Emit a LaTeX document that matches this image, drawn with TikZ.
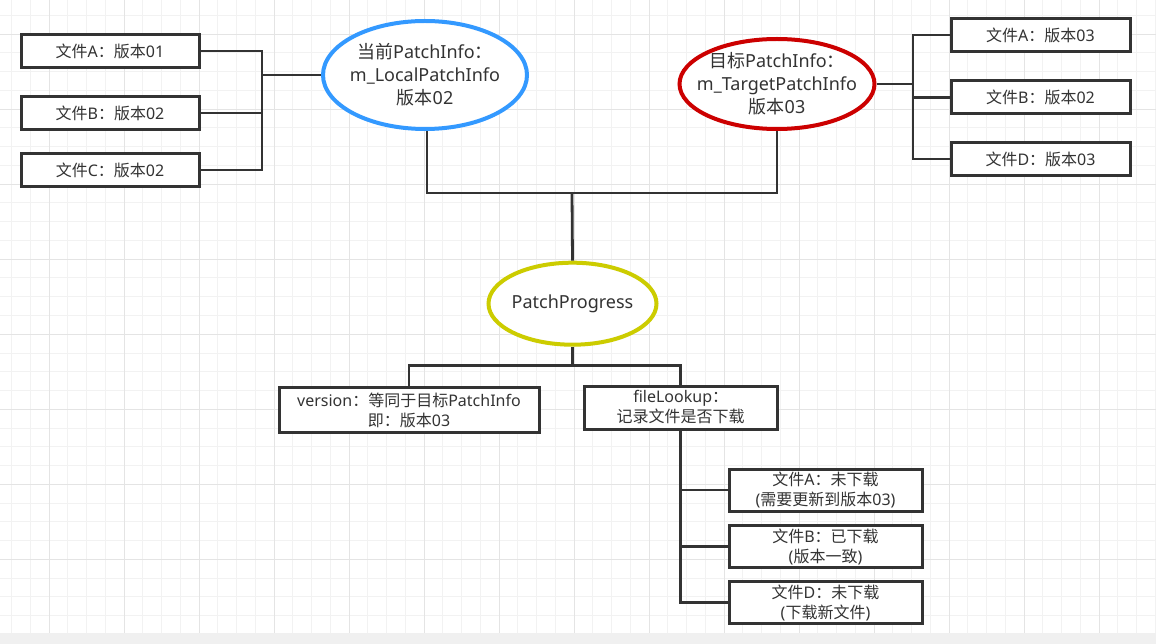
\documentclass[tikz,border=0pt]{standalone}
\usepackage{fontspec}
\setmainfont{Noto Sans}
\newfontfamily\cjkfont{Noto Sans CJK SC}
\newcommand\zh[1]{{\cjkfont #1}}
\usetikzlibrary{shapes.geometric}
\definecolor{txt}{HTML}{333333}
\definecolor{ln}{HTML}{333333}
\definecolor{gminor}{HTML}{F2F2F2}
\definecolor{gmajor}{HTML}{E4E4E4}
\definecolor{strip}{HTML}{F0F0F0}
\definecolor{eblue}{HTML}{3399FF}
\definecolor{ered}{HTML}{CC0000}
\definecolor{eyellow}{HTML}{CCCC00}
\tikzset{
  gridminor/.style={draw=gminor,line width=1pt},
  gridmajor/.style={draw=gmajor,line width=1pt},
  filebox/.style={draw=ln,line width=3pt,fill=white,rectangle,inner sep=0pt,
    align=center,text=txt,font=\fontsize{16}{20}\selectfont},
  bigell/.style={ellipse,line width=4pt,fill=white,inner sep=0pt},
  elltext/.style={inner sep=0pt,align=center,text=txt,font=\fontsize{18}{23}\selectfont},
  conn/.style={draw=ln,line width=2.8pt},
}
\begin{document}
\begin{tikzpicture}[x=1pt,y=-1pt]
\useasboundingbox (0,0) rectangle (1156,644);
\fill[white] (0,0) rectangle (1156,632.7);
\fill[strip] (0,632.7) rectangle (1156,644);
% grid
\foreach \i in {0,...,61} \draw[gridminor] ({11.5+18.75*\i},0) -- ({11.5+18.75*\i},632.7);
\foreach \j in {0,...,32} \draw[gridminor] (0,{15.5+18.75*\j}) -- (1156,{15.5+18.75*\j});
\foreach \i in {0,...,14} \draw[gridmajor] ({49+75*\i},0) -- ({49+75*\i},632.7);
\foreach \j in {0,...,7} \draw[gridmajor] (0,{34.25+75*\j}) -- (1156,{34.25+75*\j});

% connector helper coordinates
\coordinate (lb) at (262,75);
\coordinate (rb) at (913,84);
\coordinate (mid) at (572,193);
\coordinate (ys) at (572.5,365.7);

% left boxes
\node[filebox,minimum width=178pt,minimum height=33pt] (la) at (110,51) {\zh{文件}A\zh{：版本}01};
\node[filebox,minimum width=178pt,minimum height=33pt] (lbx) at (110,113) {\zh{文件}B\zh{：版本}02};
\node[filebox,minimum width=178pt,minimum height=33pt] (lc) at (110,170) {\zh{文件}C\zh{：版本}02};

% right boxes
\node[filebox,minimum width=179pt,minimum height=33pt] (ra) at (1040.5,35) {\zh{文件}A\zh{：版本}03};
\node[filebox,minimum width=179pt,minimum height=33pt] (rbx) at (1040.5,97.5) {\zh{文件}B\zh{：版本}02};
\node[filebox,minimum width=179pt,minimum height=33pt] (rd) at (1040.5,159) {\zh{文件}D\zh{：版本}03};

% ellipses
\node[bigell,draw=eblue,minimum width=204pt,minimum height=108pt] (blue) at (425,75) {};
\node[elltext] (bluet) at (blue.center)
  {\zh{当前}PatchInfo\zh{：}\\m\_LocalPatchInfo\\\zh{版本}02};
\node[bigell,draw=ered,minimum width=195pt,minimum height=90pt] (red) at (777,84) {};
\node[elltext] (redt) at (red.center)
  {\zh{目标}PatchInfo\zh{：}\\m\_TargetPatchInfo\\\zh{版本}03};
\node[bigell,draw=eyellow,minimum width=168pt,minimum height=82pt] (yel) at (572.5,303.7) {};
\node[elltext] (yelt) at (yel.center) {PatchProgress};

% progress children
\node[filebox,minimum width=260pt,minimum height=45pt] (ver) at (409,410)
  {version\zh{：等同于目标}PatchInfo\\\zh{即：版本}03};
\node[filebox,minimum width=193pt,minimum height=43pt] (fl) at (680.7,407.5)
  {fileLookup\zh{：}\\\zh{记录文件是否下载}};

\node[filebox,minimum width=193pt,minimum height=42pt] (f1) at (825.5,490)
  {\zh{文件}A\zh{：未下载}\\(\zh{需要更新到版本}03)};
\node[filebox,minimum width=193pt,minimum height=42pt] (f2) at (825.5,546.5)
  {\zh{文件}B\zh{：已下载}\\(\zh{版本一致})};
\node[filebox,minimum width=193pt,minimum height=42pt] (f3) at (825.5,602.5)
  {\zh{文件}D\zh{：未下载}\\(\zh{下载新文件})};

% connectors
\draw[conn] (la.east) -| (lb);
\draw[conn] (lc.east) -| (lb);
\draw[conn] (lbx.east) -- (lbx.east -| lb);
\draw[conn] (lb) -- (blue.west);

\draw[conn] (red.east) -- (rb);
\draw[conn] (rb) |- (ra.west);
\draw[conn] (rb) |- (rd.west);
\draw[conn] (rbx.west -| rb) -- (rbx.west);

\draw[conn] ([xshift=2pt]blue.south) |- (mid);
\draw[conn] (red.south) |- (mid);
\draw[conn] (mid) -- (yel.north);

\draw[conn] (yel.south) -- (ys);
\draw[conn] (ys) -| (ver.north);
\draw[conn] (ys) -| (fl.north);

\draw[conn] (fl.south) |- (f3.west);
\draw[conn] (fl.south |- f1.west) -- (f1.west);
\draw[conn] (fl.south |- f2.west) -- (f2.west);
\end{tikzpicture}
\end{document}
